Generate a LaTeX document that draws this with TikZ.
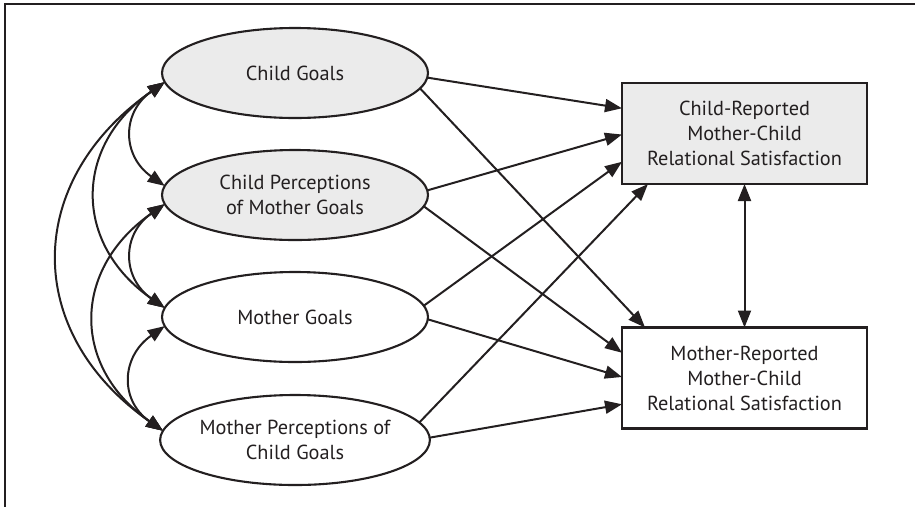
\documentclass[tikz,border=0pt]{standalone}
\usepackage{fontspec}
\setmainfont{PT Sans}
\usetikzlibrary{shapes.geometric,arrows.meta,calc}
\definecolor{fillg}{HTML}{EBEBEB}
\definecolor{ink}{HTML}{231F20}
\begin{document}
\begin{tikzpicture}[x=1pt,y=1pt,
  lat/.style={ellipse, draw=ink, line width=2.1pt, minimum width=266pt, minimum height=90pt,
    inner sep=0pt, outer sep=0pt, align=center, text=ink, font=\fontsize{20.3}{25}\selectfont},
  boxnode/.style={rectangle, draw=ink, line width=2.5pt, minimum width=245pt, minimum height=101pt,
    inner sep=0pt, outer sep=0pt, align=center, text=ink, font=\fontsize{20.3}{25}\selectfont},
  conn/.style={draw=ink, line width=2pt, -{Triangle[length=17pt,width=13pt]}},
  dbl/.style={draw=ink, line width=2pt, {Triangle[length=17pt,width=13pt]}-{Triangle[length=17pt,width=13pt]}}
]
\useasboundingbox (0,0) rectangle (915,-507);
\draw[ink, line width=1.5pt] (915,-4) -- (5,-4) -- (5,-507);

\node[lat, fill=fillg] (cg) at (295,-73) {Child Goals};
\node[lat, fill=fillg] (cpmg) at (295,-195) {Child Perceptions\\of Mother Goals};
\node[lat] (mg) at (295,-317) {Mother Goals};
\node[lat] (mpcg) at (295,-440) {Mother Perceptions of\\Child Goals};

\node[boxnode, fill=fillg] (cr) at (744.5,-133.5) {Child-Reported\\Mother-Child\\Relational Satisfaction};
\node[boxnode] (mr) at (744.5,-378) {Mother-Reported\\Mother-Child\\Relational Satisfaction};

% correlations
\draw[dbl] (cg.184) to[out=215,in=145,looseness=1.3] (cpmg.176);
\draw[dbl] (cg.184) to[out=215,in=145,looseness=1.27] (mg.176);
\draw[dbl] (cg.184) to[out=215,in=145,looseness=1.26] (mpcg.176);
\draw[dbl] (cpmg.184) to[out=215,in=145,looseness=1.3] (mg.176);
\draw[dbl] (cpmg.184) to[out=215,in=145,looseness=1.27] (mpcg.176);
\draw[dbl] (mg.184) to[out=215,in=145,looseness=1.3] (mpcg.176);

% paths
\draw[conn] (cg.-2) -- ($(cr.north west)!0.25!(cr.south west)$);
\draw[conn] (cg.-7) -- ($(mr.north west)!0.094!(mr.north east)$);
\draw[conn] (cpmg.2) -- ($(cr.north west)!0.51!(cr.south west)$);
\draw[conn] (cpmg.-5) -- ($(mr.north west)!0.25!(mr.south west)$);
\draw[conn] (mg.5) -- ($(cr.north west)!0.78!(cr.south west)$);
\draw[conn] (mg.-1) -- ($(mr.north west)!0.49!(mr.south west)$);
\draw[conn] (mpcg.8) -- ($(cr.south west)!0.106!(cr.south east)$);
\draw[conn] (mpcg.1) -- ($(mr.north west)!0.76!(mr.south west)$);

\draw[dbl] (cr) -- (mr);
\end{tikzpicture}
\end{document}
